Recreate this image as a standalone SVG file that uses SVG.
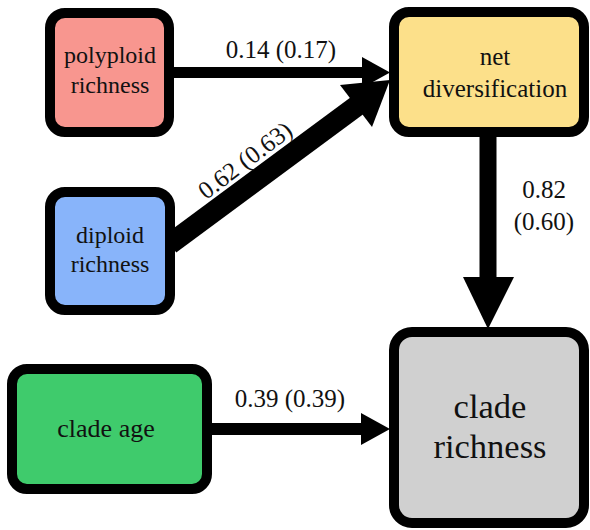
<svg xmlns="http://www.w3.org/2000/svg" width="590" height="530" viewBox="0 0 590 530">
<style>
.box{stroke:#000;stroke-width:10}
text{font-family:"Liberation Serif","Times New Roman",Times,"DejaVu Serif","Noto Serif","Nimbus Roman","FreeSerif",Georgia,serif;fill:#111;text-anchor:middle}
.n{font-size:24px}
.e{font-size:25px}
.arr{fill:#000}
</style>
<rect width="590" height="530" fill="#fff"/>
<g id="connectors">
<g id="e-poly-net"><line x1="169" y1="72.5" x2="364" y2="72.5" stroke="#000" stroke-width="11"/><polygon class="arr" points="362,57 390,72.5 362,88"/></g>
<g id="e-dip-net"><line x1="170" y1="244" x2="358" y2="105" stroke="#000" stroke-width="21"/><polygon class="arr" points="340,85 390,80 372,127"/></g>
<g id="e-net-clade"><line x1="488" y1="132" x2="488" y2="279" stroke="#000" stroke-width="17"/><polygon class="arr" points="463,277 514,277 488,329"/></g>
<g id="e-age-clade"><line x1="207" y1="429" x2="363" y2="429" stroke="#000" stroke-width="12"/><polygon class="arr" points="361,413 390,429 361,445"/></g>
<text class="e" x="281" y="58">0.14 (0.17)</text>
<text class="e" x="0" y="0" transform="translate(250,167) rotate(-37)">0.62 (0.63)</text>
<text class="e" x="544" y="198">0.82</text>
<text class="e" x="544" y="230">(0.60)</text>
<text class="e" x="290" y="407">0.39 (0.39)</text>
</g>
<g id="polyploid">
<rect class="box" x="50" y="13" width="119" height="119" rx="15" fill="#F8968F"/>
<text class="n" x="110" y="63">polyploid</text>
<text class="n" x="110" y="93">richness</text>
</g>
<g id="diploid">
<rect class="box" x="50" y="192" width="120" height="118" rx="15" fill="#88B4FA"/>
<text class="n" x="110" y="243">diploid</text>
<text class="n" x="110" y="272">richness</text>
</g>
<g id="net">
<rect class="box" x="394" y="12" width="190" height="120" rx="15" fill="#FCE08A"/>
<text style="font-size:25px" x="495" y="65">net</text>
<text style="font-size:25px" x="495" y="97">diversification</text>
</g>
<g id="cladeage">
<rect class="box" x="12" y="369" width="195" height="120" rx="15" fill="#3FCB6C"/>
<text style="font-size:26px" x="106" y="437">clade age</text>
</g>
<g id="claderichness">
<rect class="box" x="394" y="332" width="190" height="191" rx="18" fill="#D0D0D0"/>
<text style="font-size:34.5px" x="490" y="418">clade</text>
<text style="font-size:34.5px" x="490" y="458">richness</text>
</g>
</svg>
